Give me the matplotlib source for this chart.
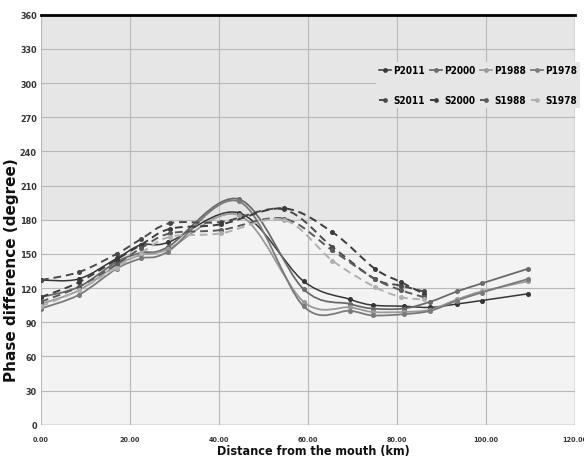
import matplotlib
matplotlib.use("Agg")
import matplotlib.pyplot as plt
from matplotlib.path import Path
from matplotlib.patches import PathPatch, Rectangle
from matplotlib.lines import Line2D
from matplotlib import font_manager as fm
import numpy as np

# ---- data ----
x_p = [0, 8.5, 17, 22.5, 28.5, 44.5, 59, 69.5, 74.5, 81.5, 87.5, 93.5, 99, 109.5]
P2011 = [127, 128, 146, 158, 160, 186, 126, 110, 105, 104, 103, 106, 109, 115]
P2000 = [112, 121, 143, 151, 156, 198, 119, 106, 102, 102, 108, 117, 124, 137]
P1988 = [106, 118, 140, 149, 154, 184, 108, 103, 99, 99, 101, 110, 117, 126]
P1978 = [102, 114, 137, 146, 152, 196, 104, 100, 96, 97, 100, 109, 116, 128]

x_s = [0, 8.5, 17, 22.5, 29, 40.5, 54.5, 65.5, 75, 81, 86]
S2011 = [127, 134, 150, 163, 177, 178, 189, 156, 128, 122, 117]
S2000 = [112, 125, 145, 158, 172, 176, 190, 169, 137, 125, 115]
S1988 = [108, 121, 141, 155, 168, 171, 181, 153, 128, 118, 112]
S1978 = [104, 118, 138, 151, 165, 168, 180, 144, 121, 112, 110]

x_ticks = [0, 20, 40, 60, 80, 100, 120]
x_ticklabels = ["0.00", "20.00", "40.00", "60.00", "80.00", "100.00", "120.00"]
y_ticks = list(range(0, 361, 30))

series = [
    ("P2011", x_p, P2011, "#363636", "-", 1.1),
    ("P2000", x_p, P2000, "#6a6a6a", "-", 1.3),
    ("P1988", x_p, P1988, "#9a9a9a", "-", 1.3),
    ("P1978", x_p, P1978, "#7a7a7a", "-", 1.3),
    ("S2011", x_s, S2011, "#4a4a4a", (0, (4, 2.5)), 1.4),
    ("S2000", x_s, S2000, "#3c3c3c", (0, (4, 2.5)), 1.4),
    ("S1988", x_s, S1988, "#5a5a5a", (0, (4, 2.5)), 1.4),
    ("S1978", x_s, S1978, "#b0b0b0", (0, (4, 2.5)), 1.4),
]


# find a condensed / narrow font file
def find_font(bold):
    best = None
    for f in fm.fontManager.ttflist:
        name = (f.fname or "").lower()
        if ("narrow" in name or "condensed" in name) and "oblique" not in name and "italic" not in name:
            isbold = "bold" in name
            if isbold == bold:
                if "liberation" in name:
                    return f.fname
                if best is None or "dejavusans" in name.replace("-", ""):
                    best = f.fname
    return best


fb = find_font(True)
fr = find_font(False)


def fp(size, bold=True):
    f = fb if bold else fr
    if f is None:
        return fm.FontProperties(family="DejaVu Sans", size=size * 0.85,
                                 weight="bold" if bold else "normal")
    return fm.FontProperties(fname=f, size=size)


fig = plt.figure(figsize=(5.84, 4.64), dpi=100)
ax = fig.add_axes([41/584, (464-425.7)/464, 534/584, 410/464])
ax.set_xlim(0, 120)
ax.set_ylim(0, 360)
ax.set_facecolor("white")

# background bands
ax.add_patch(Rectangle((0, 180), 120, 180, facecolor="#e6e6e6", edgecolor="none", zorder=0))
ax.add_patch(Rectangle((0, 0), 120, 180, facecolor="#f3f3f3", edgecolor="none", zorder=0))

ax.set_xticks(x_ticks)
ax.set_xticklabels(x_ticklabels)
ax.set_yticks(y_ticks)
ax.grid(True, color="#b8b8b8", linewidth=0.8, zorder=1)
ax.set_axisbelow(True)
ax.tick_params(length=0, pad=3)
for lab in ax.get_yticklabels():
    lab.set_fontproperties(fp(6.5)); lab.set_color("#333333")
for lab in ax.get_xticklabels():
    lab.set_fontproperties(fp(5.2)); lab.set_color("#333333")
ax.tick_params(axis="x", pad=8)

for s in ["left", "bottom", "right", "top"]:
    ax.spines[s].set_visible(False)
ax.axhline(360, color="black", linewidth=2.0, zorder=3, clip_on=False)
ax.axvline(120, color="#9a9a9a", linewidth=1.0, zorder=3)
ax.axhline(0, color="#9a9a9a", linewidth=1.0, zorder=3)


def smooth_path(xs, ys):
    pts = np.column_stack([xs, ys]).astype(float)
    n = len(pts)
    verts = [pts[0]]
    codes = [Path.MOVETO]
    for i in range(n - 1):
        p0 = pts[i - 1] if i > 0 else pts[i]
        p1 = pts[i]
        p2 = pts[i + 1]
        p3 = pts[i + 2] if i + 2 < n else pts[i + 1]
        c1 = p1 + (p2 - p0) / 6.0
        c2 = p2 - (p3 - p1) / 6.0
        verts += [c1, c2, p2]
        codes += [Path.CURVE4] * 3
    return Path(verts, codes)


handles = {}
for name, xs, ys, col, ls, lw in series:
    patch = PathPatch(smooth_path(xs, ys), facecolor="none", edgecolor=col,
                      linewidth=lw, linestyle=ls, zorder=4)
    ax.add_patch(patch)
    ax.plot(xs, ys, linestyle="none", marker="o", markersize=2.6, color=col, zorder=5)
    handles[name] = Line2D([], [], color=col, linestyle=ls, linewidth=lw,
                           marker="o", markersize=2.4)

order = ["P2011", "S2011", "P2000", "S2000", "P1988", "S1988", "P1978", "S1978"]
leg = ax.legend([handles[k] for k in order], order, ncol=4, loc="upper right",
                bbox_to_anchor=(1.01, (425.7-63)/410), frameon=True,
                prop=fp(7.2),
                handlelength=1.2, handletextpad=0.25, columnspacing=0.45,
                labelspacing=2.0, borderpad=0.3, borderaxespad=0.0, fancybox=False)
leg.get_frame().set_facecolor("#e6e6e6")
leg.get_frame().set_edgecolor("none")
leg.get_frame().set_alpha(1.0)
leg.set_zorder(6)

fig.text(12/584, 1 - 270/464, "Phase difference (degree)", rotation=90,
         ha="center", va="center", fontsize=11, fontweight="bold",
         family="DejaVu Sans", color="#111111")
fig.text(313/584, 1 - 452/464, "Distance from the mouth (km)", ha="center",
         va="center", fontproperties=fp(9, bold=True), color="#111111")

fig.savefig("out.png", dpi=100)
